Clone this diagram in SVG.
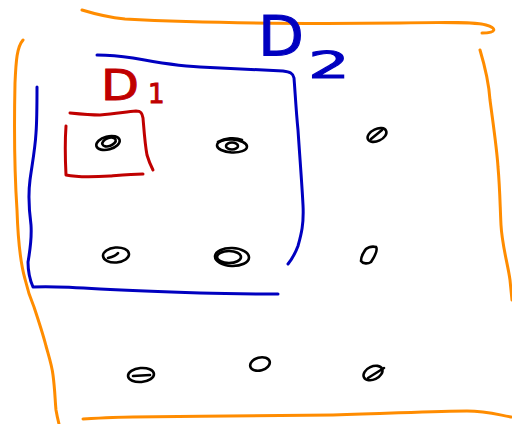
<svg xmlns="http://www.w3.org/2000/svg" width="512" height="424" viewBox="0 0 512 424">
<style>
.o{fill:none;stroke:#ff8c00;stroke-width:3;stroke-linecap:round;stroke-linejoin:round}
.b{fill:none;stroke:#0000c0;stroke-width:3;stroke-linecap:round;stroke-linejoin:round}
.r{fill:none;stroke:#c00000;stroke-width:3;stroke-linecap:round;stroke-linejoin:round}
.p{fill:none;stroke:#000;stroke-width:2.6;stroke-linecap:round}
.lr{fill:#c00000;stroke:#c00000;stroke-width:1;font-family:"DejaVu Sans","Liberation Sans",sans-serif}
.lb{fill:#0000c0;stroke:#0000c0;stroke-width:1;font-family:"DejaVu Sans","Liberation Sans",sans-serif}
</style>
<rect width="512" height="424" fill="#fff"/>
<g id="frame-outer">
<path class="o" d="M82,10 C95,14 105,17 125,19 C200,23 300,24 400,23 C450,22 475,22 486,25 C497,28 497,33 482,33"/>
<path class="o" d="M23,40 C17,47 16,60 15,83 C14,130 15,180 17,210 C18,240 21,265 25,279 C28,292 31,300 34,307 C40,325 44,338 46,346 C50,360 52,366 53,375 C55,390 55,400 56,410 C57,416 58,420 59,424"/>
<path class="o" d="M480,50 C486,70 489,85 490,100 C494,130 497,150 498,167 C500,190 500,205 501,225 C502,245 508,265 510,280 L512,300"/>
<path class="o" d="M83,419 C100,418 120,417 133,417 C200,416 280,416 333,415 C400,413 440,411 467,411 C485,411 495,414 511,417"/>
</g>
<g id="frame-D2">
<path class="b" d="M97,55 C110,55 120,56 133,58 C160,63 180,66 200,67 C240,69 265,70 283,71 C290,72 293,73 294,78 C295,90 296,110 298,130 C300,160 302,185 303,205 C304,225 301,235 298,246 C295,254 292,259 288,264"/>
<path class="b" d="M37,87 C37,105 37,120 36,133 C35,150 32,165 30,180 C28,195 29,210 31,225 C32,240 30,250 28,262 C28,272 30,280 33,287 C50,286 70,287 100,289 C140,291 170,292 200,293 C230,294 255,294 278,294"/>
</g>
<g id="frame-D1">
<path class="r" d="M70,113 C80,114 90,115 100,115 C115,114 125,112 136,111 C141,111 142,113 143,118 C144,130 145,145 147,155 C149,162 151,166 153,170"/>
<path class="r" d="M66,126 C65,140 65,155 66,175 C80,178 95,177 110,176 C122,175 133,174 143,174"/>
</g>
<g id="label-D1">
<text class="lr" x="101" y="100" font-size="42" textLength="38" lengthAdjust="spacingAndGlyphs">D</text>
<text class="lr" x="148" y="103" font-size="26">1</text>
</g>
<g id="label-D2">
<text class="lb" x="258" y="55" font-size="56" textLength="46" lengthAdjust="spacingAndGlyphs">D</text>
<text class="lb" x="308" y="78" font-size="38" textLength="42" lengthAdjust="spacingAndGlyphs">2</text>
</g>
<g id="p11"><ellipse class="p" cx="108" cy="143" rx="12" ry="6.5" transform="rotate(-15 108 143)"/><ellipse class="p" cx="109" cy="142" rx="7" ry="4" transform="rotate(-20 109 142)"/></g>
<g id="p12"><ellipse class="p" cx="232" cy="146" rx="15" ry="6.5" transform="rotate(3 232 146)"/><path class="p" d="M218,142 C225,138 235,137 242,140"/><ellipse class="p" cx="232" cy="146" rx="6" ry="3.5"/></g>
<g id="p13"><ellipse class="p" cx="377" cy="135" rx="10" ry="6" transform="rotate(-25 377 135)"/><path class="p" d="M371,139 L382,130"/></g>
<g id="p21"><ellipse class="p" cx="116" cy="255" rx="13" ry="7.5" transform="rotate(-5 116 255)"/><path class="p" d="M108,258 C112,257 116,256 118,253"/></g>
<g id="p22"><ellipse class="p" cx="232" cy="257" rx="17" ry="9" transform="rotate(2 232 257)"/><ellipse class="p" cx="229" cy="257" rx="12" ry="6"/></g>
<g id="p23"><path class="p" d="M364,252 C366,247 372,246 376,247 C378,250 375,256 371,262 C368,264 363,264 361,261 C361,258 362,255 364,252"/></g>
<g id="p31"><ellipse class="p" cx="141" cy="375" rx="13" ry="7" transform="rotate(-5 141 375)"/><path class="p" d="M133,376 L150,375"/></g>
<g id="p32"><ellipse class="p" cx="260" cy="364" rx="10" ry="6.5" transform="rotate(-15 260 364)"/></g>
<g id="p33"><ellipse class="p" cx="373" cy="373" rx="10" ry="6.5" transform="rotate(-25 373 373)"/><path class="p" d="M368,378 L384,368"/></g>
</svg>
